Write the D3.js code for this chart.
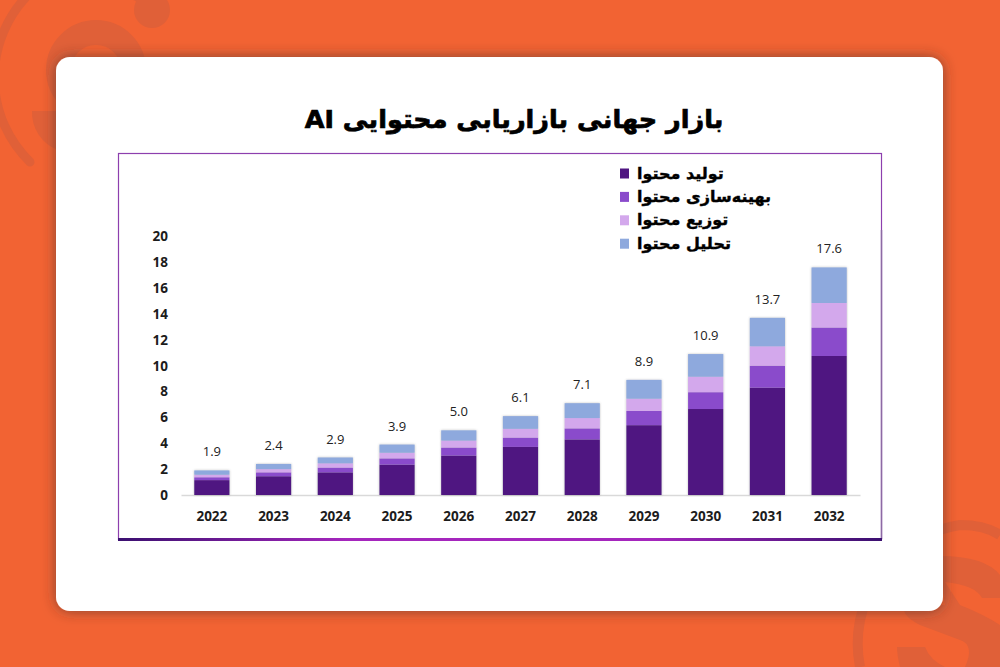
<!DOCTYPE html>
<html>
<head>
<meta charset="utf-8">
<script src="https://cdn.jsdelivr.net/npm/d3@7/dist/d3.min.js"></script>
<style>
html, body { margin: 0; padding: 0; background: #f26333; overflow: hidden; }
text { font-family: "DejaVu Sans", sans-serif; }
</style>
</head>
<body>
<svg id="main-svg" width="1000" height="667"></svg>
<script>
var years = ['2022','2023','2024','2025','2026','2027','2028','2029','2030','2031','2032'];
var totals = [1.9, 2.4, 2.9, 3.9, 5.0, 6.1, 7.1, 8.9, 10.9, 13.7, 17.6];
var creation = [1.15, 1.45, 1.75, 2.35, 3.05, 3.72, 4.3, 5.4, 6.65, 8.3, 10.75];
var optimization = [0.22, 0.3, 0.37, 0.48, 0.62, 0.72, 0.85, 1.1, 1.3, 1.7, 2.2];
var distribution = [0.2, 0.25, 0.33, 0.44, 0.54, 0.68, 0.8, 0.95, 1.2, 1.5, 1.9];
var analysis = [0.33, 0.4, 0.45, 0.63, 0.79, 0.98, 1.15, 1.45, 1.75, 2.2, 2.75];
var seriesNames = ['تولید محتوا', 'بهینه‌سازی محتوا', 'توزیع محتوا', 'تحلیل محتوا'];
var seriesColors = ['#4f1581', '#8a4bcb', '#d3a8ec', '#8ea9dd'];
var yTicks = [0, 2, 4, 6, 8, 10, 12, 14, 16, 18, 20];
var titleText = 'بازار جهانی بازاریابی محتوایی AI';

var svg = d3.select('#main-svg');
var defs = svg.append('defs');

var shadow = defs.append('filter').attr('id', 'card-shadow')
    .attr('x', '-5%').attr('y', '-5%').attr('width', '110%').attr('height', '110%');
shadow.append('feDropShadow').attr('dx', 0).attr('dy', 0)
    .attr('stdDeviation', 7).attr('flood-color', '#3a2a2a').attr('flood-opacity', 0.6);

var barShadow = defs.append('filter').attr('id', 'bar-shadow')
    .attr('x', '-10%').attr('y', '-10%').attr('width', '120%').attr('height', '120%');
barShadow.append('feDropShadow').attr('dx', 0).attr('dy', 0)
    .attr('stdDeviation', 1).attr('flood-color', '#555').attr('flood-opacity', 0.4);

var grad = defs.append('linearGradient').attr('id', 'frame-bottom');
grad.append('stop').attr('offset', '0%').attr('stop-color', '#3b1070');
grad.append('stop').attr('offset', '30%').attr('stop-color', '#a526bd');
grad.append('stop').attr('offset', '70%').attr('stop-color', '#a526bd');
grad.append('stop').attr('offset', '100%').attr('stop-color', '#3b1070');

// Background decoration
var deco = svg.append('g').attr('fill', 'none').attr('stroke', '#e06038');
deco.append('path').attr('stroke-width', 9).attr('stroke-linecap', 'round')
    .attr('d', 'M30,162 A 118 118 0 0 1 28,-5 A 118 118 0 0 1 150,5');
deco.append('circle').attr('cx', 152).attr('cy', 10).attr('r', 18)
    .attr('fill', '#e06038').attr('stroke', 'none');
deco.append('circle').attr('cx', 96).attr('cy', 70).attr('r', 37.5).attr('stroke-width', 25);
deco.append('path').attr('fill', '#e06038').attr('stroke', 'none')
    .attr('d', 'M32,111 H70 V150 H58 A 40 40 0 0 1 32,111 Z');

deco.append('path').attr('stroke-width', 10)
    .attr('d', 'M860,667 A 120 120 0 0 1 960,525 Q985,525 1000,535');
deco.append('path').attr('fill', '#e06038').attr('stroke', 'none')
    .attr('d', 'M940,556 Q985,556 1000,575 V667 H965 Q975,645 960,640 L920,625 Q900,615 905,605 H945 Z');
deco.append('path').attr('fill', '#e06038').attr('stroke', 'none')
    .attr('d', 'M897,647 H925 Q930,660 945,667 H900 Q897,655 897,647 Z');
deco.append('path').attr('fill', '#f26333').attr('stroke', 'none')
    .attr('d', 'M945,582 Q975,585 982,598 H1000 V625 Q985,615 960,605 Z');

// Card
svg.append('rect')
    .attr('x', 56).attr('y', 57).attr('width', 887).attr('height', 554)
    .attr('rx', 14).attr('fill', '#fff')
    .attr('filter', 'url(#card-shadow)');

svg.append('text')
    .attr('x', 514).attr('y', 128)
    .attr('text-anchor', 'middle')
    .attr('direction', 'rtl')
    .attr('font-size', 25.5).attr('font-weight', 'bold').attr('fill', '#000')
    .attr('stroke', '#000').attr('stroke-width', 0.7)
    .text(titleText);

// Chart frame
svg.append('rect')
    .attr('x', 118.5).attr('y', 153.5).attr('width', 763).attr('height', 386)
    .attr('fill', '#fff').attr('stroke', '#8d3fae').attr('stroke-width', 1.2);
svg.append('line')
    .attr('x1', 881.5).attr('x2', 881.5).attr('y1', 230).attr('y2', 539)
    .attr('stroke', '#8d6aa5').attr('stroke-width', 1.5);
svg.append('rect')
    .attr('x', 118).attr('y', 538).attr('width', 764).attr('height', 3)
    .attr('fill', 'url(#frame-bottom)');

var x = d3.scaleBand().domain(years).range([181, 860])
    .paddingInner(0.43).paddingOuter(0.215);
var y = d3.scaleLinear().domain([0, 20]).range([495, 236.4]);

var rows = years.map(function(yr, i) {
    return {year: yr, s0: creation[i], s1: optimization[i], s2: distribution[i], s3: analysis[i]};
});
var stacked = d3.stack().keys(['s0', 's1', 's2', 's3'])(rows);

// Axes
var xAxis = svg.append('g').attr('transform', 'translate(0,495)')
    .call(d3.axisBottom(x).tickSize(0).tickPadding(16));
xAxis.select('.domain').attr('stroke', '#d9d9d9').attr('stroke-width', 1.5);
xAxis.selectAll('text')
    .attr('font-size', 13.5).attr('font-weight', 'bold').attr('fill', '#1c1c1c')
    .style('font-family', '"Open Sans", sans-serif');

var yAxis = svg.append('g').attr('transform', 'translate(168,0)')
    .call(d3.axisLeft(y).tickValues(yTicks).tickSize(0).tickPadding(0));
yAxis.select('.domain').remove();
yAxis.selectAll('text')
    .attr('font-size', 13.5).attr('font-weight', 'bold').attr('fill', '#1c1c1c')
    .style('font-family', '"Open Sans", sans-serif');

// Bars
svg.append('g').attr('filter', 'url(#bar-shadow)').selectAll('g')
    .data(stacked).enter().append('g')
    .attr('fill', function(d, i) { return seriesColors[i]; })
    .selectAll('rect')
    .data(function(d) { return d; }).enter().append('rect')
    .attr('x', function(d) { return x(d.data.year); })
    .attr('y', function(d) { return y(d[1]); })
    .attr('width', x.bandwidth())
    .attr('height', function(d) { return y(d[0]) - y(d[1]); });

// Total labels
svg.append('g').selectAll('text')
    .data(totals).enter().append('text')
    .attr('x', function(d, i) { return x(years[i]) + x.bandwidth() / 2; })
    .attr('y', function(d) { return y(d) - 14; })
    .attr('text-anchor', 'middle')
    .attr('font-size', 13).attr('fill', '#222')
    .style('font-family', '"Open Sans", sans-serif')
    .text(function(d) { return d.toFixed(1); });

// Legend
var legend = svg.append('g').selectAll('g')
    .data(seriesNames).enter().append('g')
    .attr('transform', function(d, i) { return 'translate(0,' + (173.5 + i * 23.4) + ')'; });
legend.append('rect')
    .attr('x', 620).attr('y', -5).attr('width', 9).attr('height', 10)
    .attr('fill', function(d, i) { return seriesColors[i]; });
legend.append('text')
    .attr('x', 637).attr('y', 5)
    .attr('direction', 'rtl')
    .attr('text-anchor', 'end')
    .attr('font-size', 16).attr('font-weight', 'bold').attr('fill', '#000')
    .attr('stroke', '#000').attr('stroke-width', 0.4)
    .text(function(d) { return d; });
</script>
</body>
</html>
